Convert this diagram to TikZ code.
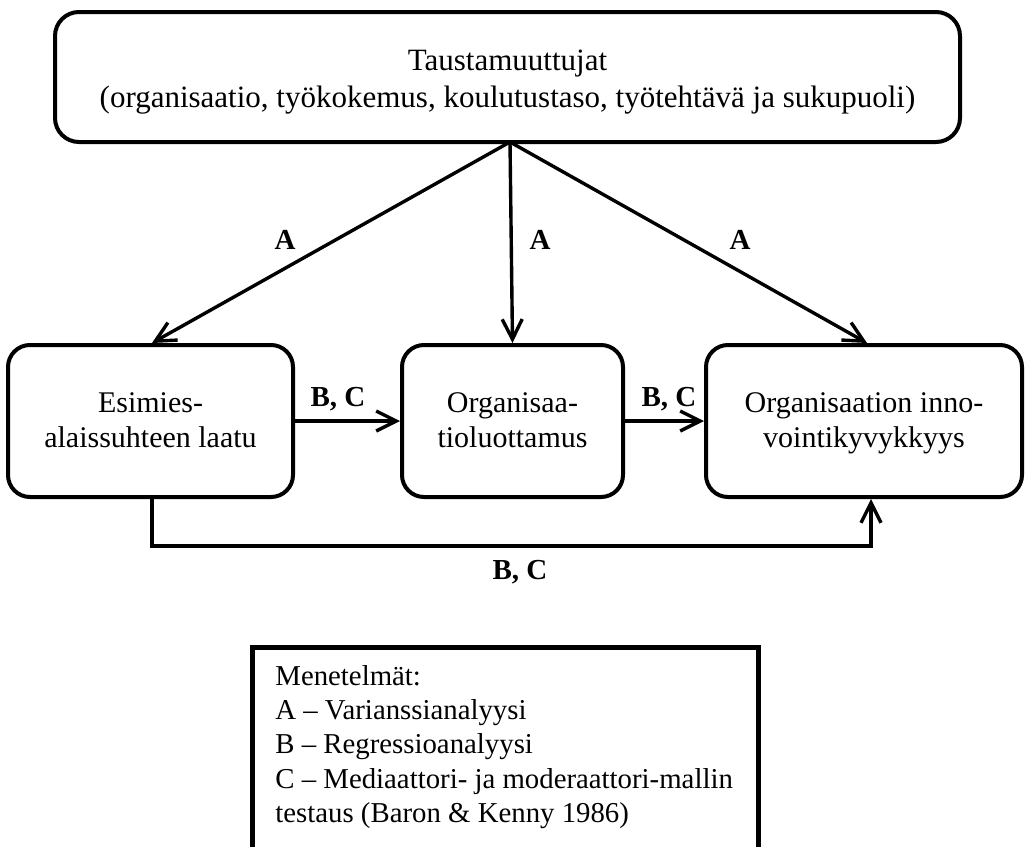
\documentclass[tikz,border=0pt]{standalone}
\usepackage{fontspec}
\setmainfont{Liberation Serif}
\usetikzlibrary{arrows.meta,calc,fit}

\tikzset{
  varbox/.style={draw, line width=2pt, rounded corners=11pt, inner sep=0pt},
  vartext/.style={align=center, inner sep=0pt, font=\fontsize{15}{17.5}\selectfont},
  arr/.style={line width=1.7pt, -{Straight Barb[length=10pt,width=10pt,line width=1.7pt]}},
  lbl/.style={font=\fontsize{14.5}{16}\selectfont\bfseries, inner sep=0pt},
  legendtext/.style={align=left, inner sep=0pt, anchor=north west,
    font=\fontsize{14.4}{17.15}\selectfont}
}

\begin{document}
\begin{tikzpicture}[x=0.5pt,y=-0.5pt]
  \clip (0,0) rectangle (1028,846);
  \fill[white] (0,0) rectangle (1028,846);

  % background variables
  \node[varbox, rounded corners=12pt, fit={(55,12) (960,142)}] (top) {};
  \node[vartext, font=\fontsize{15.5}{18.5}\selectfont] (toptext) at (507.5,82)
    {Taustamuuttujat\\(organisaatio, työkokemus, koulutustaso, työtehtävä ja sukupuoli)};

  % main variables
  \node[varbox, fit={(8,345) (293,497)}] (e1) {};
  \node[vartext] (e1text) at (150.5,420) {Esimies-\\alaissuhteen laatu};
  \node[varbox, fit={(402,345) (623,497)}] (e2) {};
  \node[vartext] (e2text) at (512.5,420) {Organisaa-\\tioluottamus};
  \node[varbox, fit={(706,345) (1022,497)}] (e3) {};
  \node[vartext] (e3text) at (864,423) {Organisaation inno-\\vointikyvykkyys};

  % analysis A from the background variables
  \coordinate (hub) at (510,142);
  \draw[arr] (hub) -- ([xshift=0.75pt]e1.north);
  \draw[arr] (hub) -- (e2.north);
  \draw[arr] (hub) -- ([xshift=1.5pt]e3.north);
  \node[lbl] (a1) at (285,240) {A};
  \node[lbl] (a2) at (540,240) {A};
  \node[lbl] (a3) at (740,240) {A};

  % analyses B and C between main variables
  \draw[arr] (e1.east) -- (e2.west);
  \draw[arr] (e2.east) -- (e3.west);
  \draw[arr] ([xshift=0.75pt]e1.south) -- ++(0,47) -| ([xshift=3.5pt]e3.south);
  \node[lbl] (bc1) at (338,399) {B, C};
  \node[lbl] (bc2) at (669,399) {B, C};
  \node[lbl] (bc3) at (520,572) {B, C};

  % legend of methods
  \draw[line width=2.5pt] (252,900) -- (252,647) -- (758,647) -- (758,900);
  \node[legendtext] (legend) at (275,665)
    {Menetelmät:\\
     A – Varianssianalyysi\\
     B – Regressioanalyysi\\
     C – Mediaattori- ja moderaattori-mallin\\
     testaus (Baron \& Kenny 1986)};
\end{tikzpicture}
\end{document}
